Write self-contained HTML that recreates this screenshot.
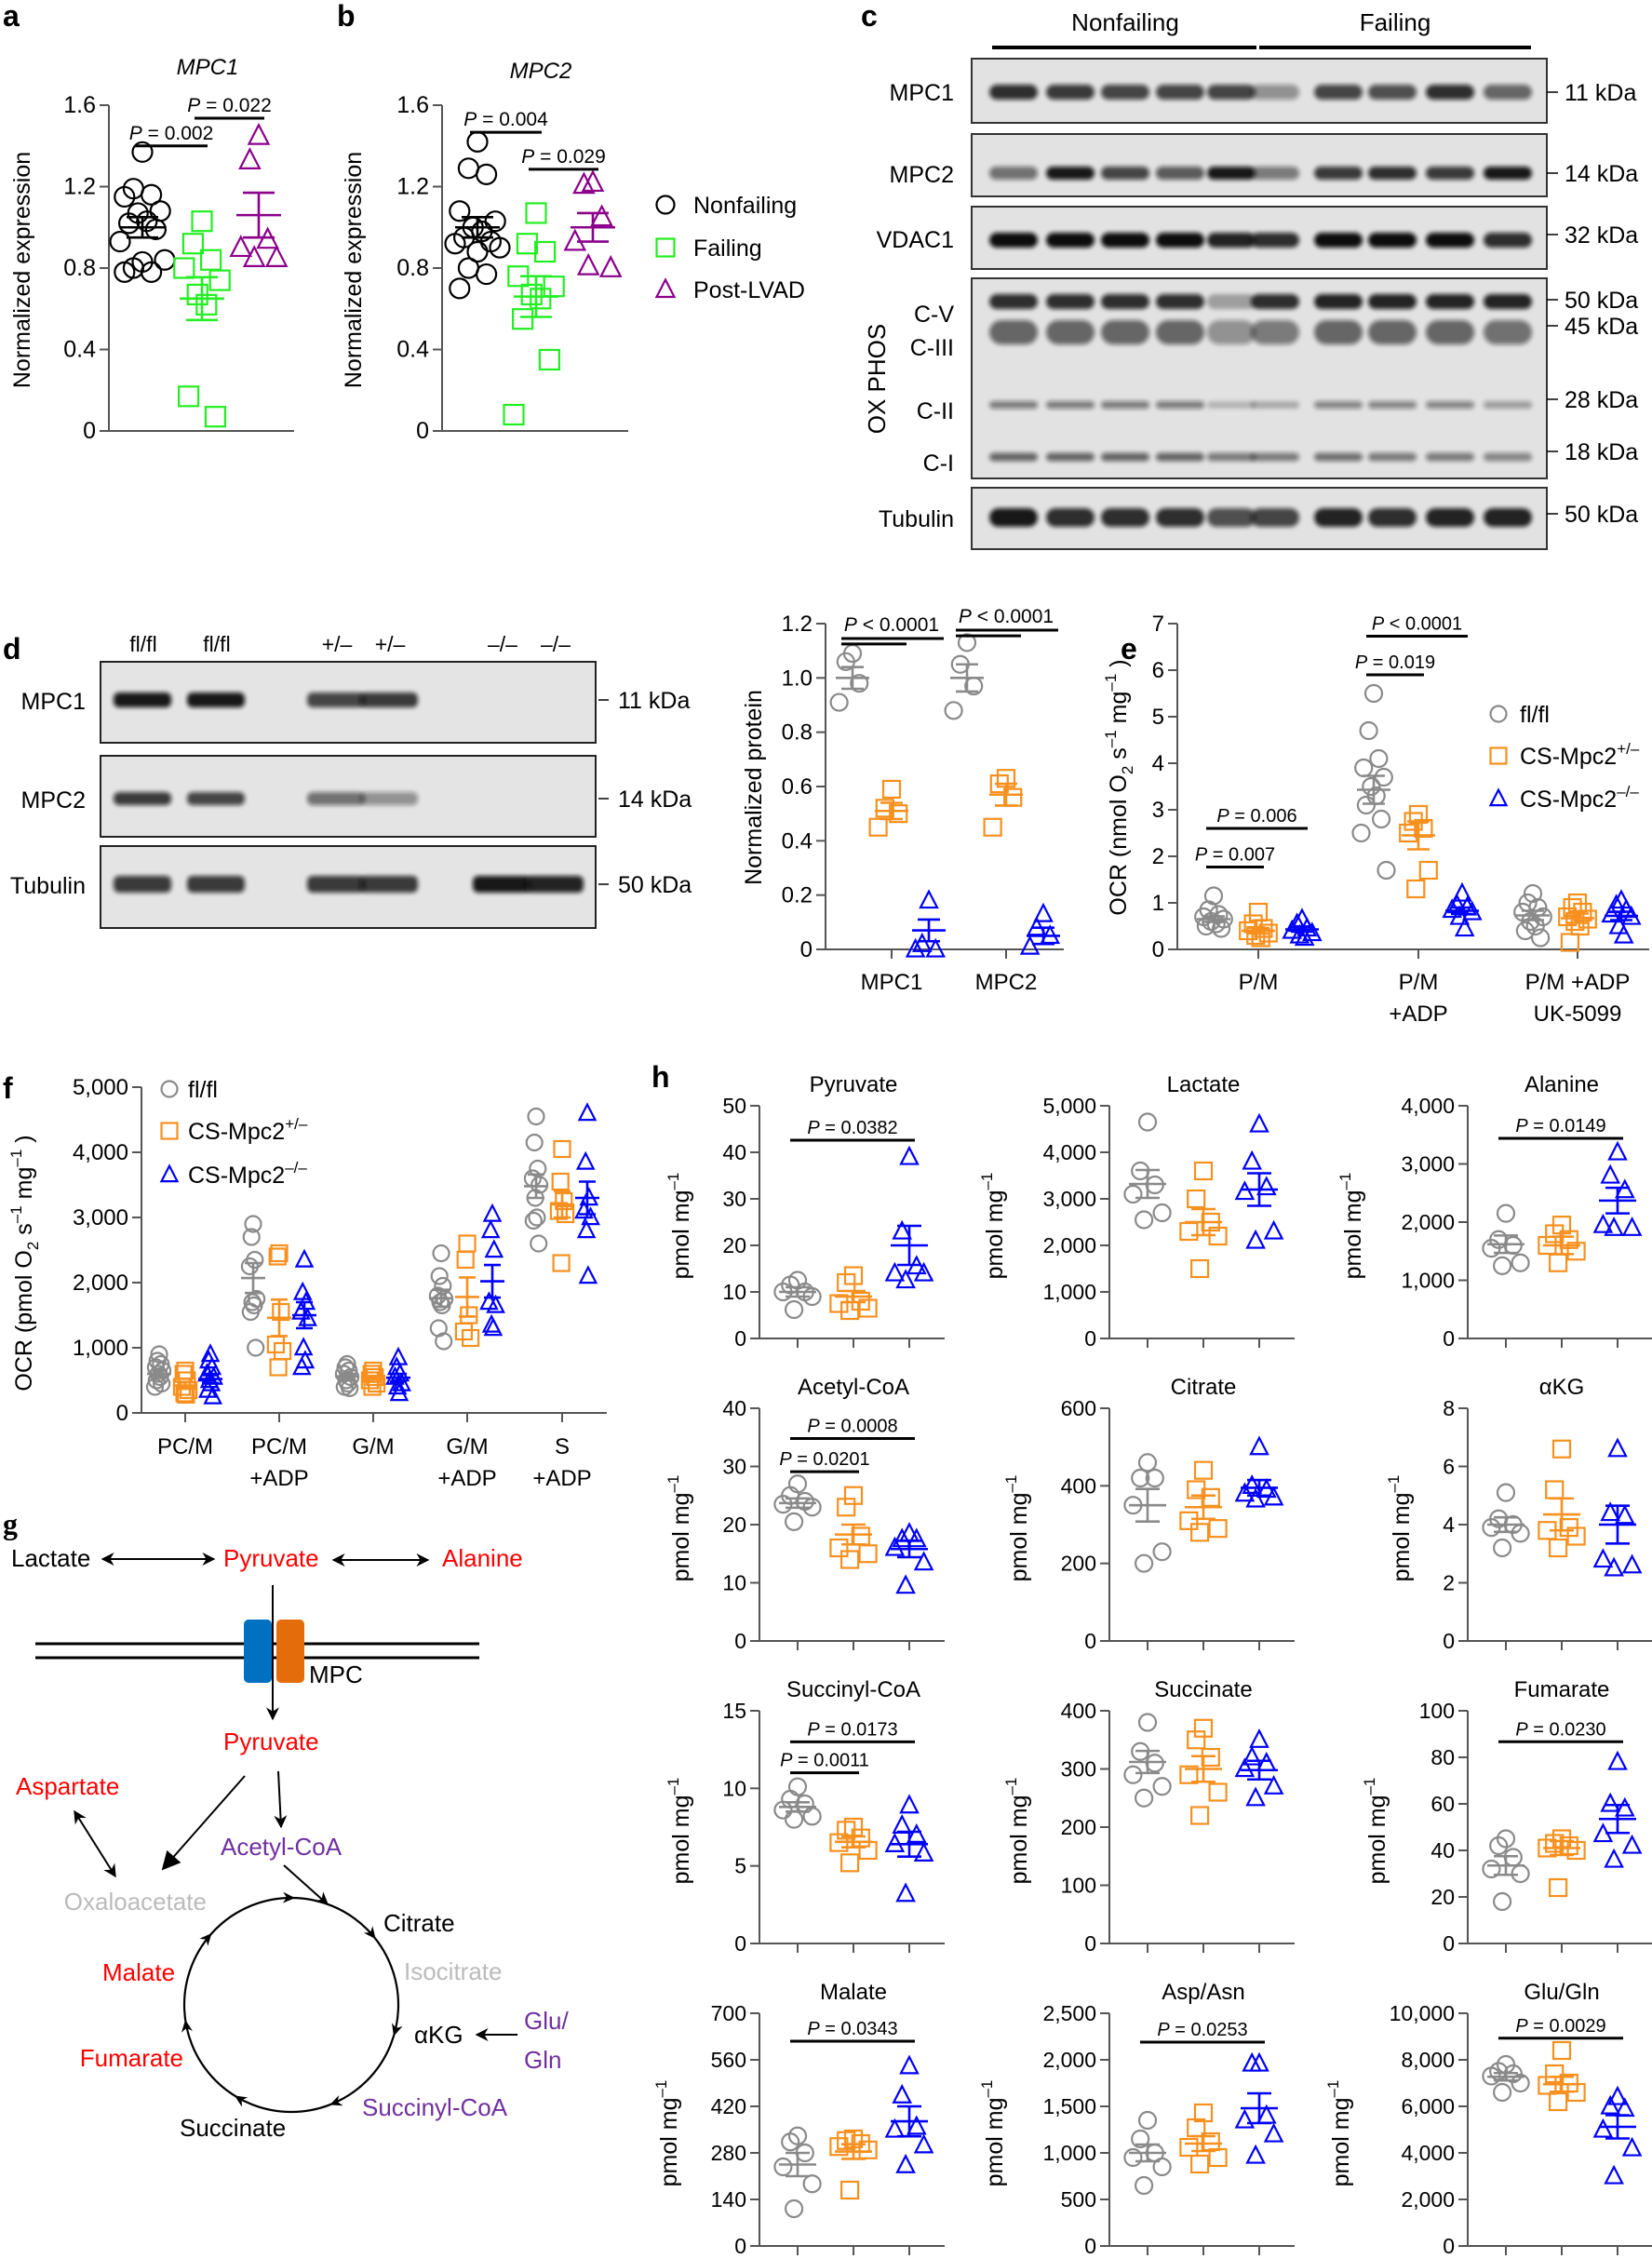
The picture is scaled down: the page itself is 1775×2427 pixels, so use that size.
<!DOCTYPE html>
<html><head><meta charset="utf-8">
<style>
html,body{margin:0;padding:0;background:#fff;}
svg{display:block;font-family:"Liberation Sans","DejaVu Sans",sans-serif;}
</style></head>
<body>
<svg id="fig" width="1775" height="2427" viewBox="0 0 1775 2427" xmlns="http://www.w3.org/2000/svg">
<defs><filter id="blur" x="-20%" y="-50%" width="140%" height="200%"><feGaussianBlur stdDeviation="2.5"/></filter></defs>
</svg>
<script>
// ---------------- DATA ----------------
// panel a (MPC1) / b (MPC2)
const abGroups=['Nonfailing','Failing','Post-LVAD'];
const abTicks=[0,0.4,0.8,1.2,1.6];
const aPts=[[1.37,1.19,1.16,1.15,1.08,1.07,1.03,1.02,0.99,0.93,0.84,0.83,0.80,0.78,0.78],[1.03,0.92,0.84,0.80,0.74,0.67,0.62,0.17,0.07],[1.45,1.33,0.94,0.90,0.85,0.85]];
const aMean=[1.00,0.65,1.06];
const aSem=[0.05,0.105,0.11];
const aP=[[0,1,1.40,'0.002'],[1,2,1.536,'0.022']];
const bPts=[[1.42,1.29,1.26,1.08,1.03,1.00,0.98,0.95,0.93,0.92,0.90,0.88,0.80,0.77,0.70],[1.07,0.92,0.88,0.76,0.71,0.67,0.65,0.55,0.35,0.08],[1.22,1.21,1.05,0.93,0.80,0.81]];
const bMean=[1.00,0.66,1.00];
const bSem=[0.05,0.10,0.07];
const bP=[[0,1,1.467,'0.004'],[1,2,1.285,'0.029']];
// panel d chart
const dCats=['MPC1','MPC2'];
const dTicks=[0,0.2,0.4,0.6,0.8,1.0,1.2];
const dFl=[[1.09,1.06,0.98,0.91],[1.13,1.05,0.97,0.88]];
const dHet=[[0.59,0.52,0.50,0.45],[0.63,0.61,0.56,0.45]];
const dKo=[[0.18,0.02,0.0,0.0],[0.13,0.08,0.05,0.01]];
const dMean=[[1.0,0.51,0.07],[1.0,0.57,0.05]];
const dSem=[[0.04,0.03,0.04],[0.05,0.04,0.03]];
// panel e chart
const eCats=[['P/M'],['P/M','+ADP'],['P/M +ADP','UK-5099']];
const eTicks=[0,1,2,3,4,5,6,7];
const eFl=[[1.15,0.85,0.75,0.7,0.65,0.6,0.55,0.5,0.45],[5.5,4.7,4.1,3.9,3.7,3.5,3.3,3.1,2.8,2.5,1.7],[1.2,1.0,0.9,0.8,0.7,0.6,0.5,0.4,0.25]];
const eHet=[[0.8,0.55,0.45,0.4,0.35,0.3,0.25],[2.9,2.75,2.6,2.5,1.7,1.3],[1.0,0.9,0.8,0.7,0.65,0.6,0.5,0.15]];
const eKo=[[0.65,0.55,0.45,0.4,0.35,0.3,0.25],[1.2,0.95,0.9,0.85,0.8,0.7,0.45],[1.05,0.95,0.85,0.75,0.7,0.5,0.3]];
const eMean=[[0.65,0.40,0.43],[3.43,2.45,0.83],[0.73,0.67,0.72]];
const eSem=[[0.06,0.06,0.05],[0.30,0.30,0.07],[0.10,0.10,0.09]];
// panel f chart
const fCats=[['PC/M'],['PC/M','+ADP'],['G/M'],['G/M','+ADP'],['S','+ADP']];
const fTicks=[0,1000,2000,3000,4000,5000];
const fFl=[[900,800,750,700,650,600,550,500,450,400],[2900,2700,2350,2250,1750,1700,1650,1550,1000],[750,700,650,600,550,500,450,400,380],[2450,2100,1950,1800,1750,1700,1650,1300,1100],[4550,4150,3750,3600,3500,3300,3000,2950,2600]];
const fHet=[[650,600,500,400,350,300,280],[2450,2400,1550,1050,950,700],[650,600,550,500,450,400],[2600,2350,1500,1250,1150],[4050,3550,3250,3100,3050,2300]];
const fKo=[[900,800,700,600,550,500,450,350,250],[2350,1850,1700,1550,1450,1000,800,700],[850,700,600,550,450,400,300],[3050,2800,2500,1700,1650,1350,1300],[4600,3850,3300,3100,3000,2800,2100]];
const fMean=[[600,420,520],[2070,1460,1500],[560,520,540],[1760,1780,2020],[3480,3200,3300]];
const fSem=[[50,50,60],[230,280,200],[40,40,60],[130,300,250],[180,200,250]];
// panel h charts
const hNames=['Pyruvate','Lactate','Alanine','Acetyl-CoA','Citrate','αKG','Succinyl-CoA','Succinate','Fumarate','Malate','Asp/Asn','Glu/Gln'];
const hTicks=[[0,10,20,30,40,50],[0,1000,2000,3000,4000,5000],[0,1000,2000,3000,4000],[0,10,20,30,40],[0,200,400,600],[0,2,4,6,8],[0,5,10,15],[0,100,200,300,400],[0,20,40,60,80,100],[0,140,280,420,560,700],[0,500,1000,1500,2000,2500],[0,2000,4000,6000,8000,10000]];
const hFl=[[12.5,11.5,10,10,9,6.2],[4650,3600,3300,3100,2700,2550],[2150,1700,1600,1550,1300,1250],[27,25,24,23.5,23,20.5],[460,420,420,350,230,200],[5.1,4.2,4.0,3.9,3.7,3.2],[10.1,9.3,9.0,8.6,8.2,8.0],[380,330,310,290,270,250],[45,42,37,32,30,18],[331,313,280,238,187,112],[1350,1150,1000,950,850,650],[7800,7500,7400,7300,7000,6600]];
const hHet=[[13.5,12,8,7.5,6.5,6.0],[3600,3000,2500,2300,2200,1500],[1950,1800,1700,1600,1500,1300],[25,23,18,16,15,14],[440,390,370,310,290,280],[6.6,5.2,3.9,3.8,3.6,3.2],[7.5,7.3,6.8,6.5,6.0,5.2],[370,350,320,290,260,220],[45,43,42,41,40,24],[322,317,308,299,289,168],[1430,1270,1120,1060,950,880],[8400,7400,7000,6900,6600,6200]];
const hKo=[[39,23,15.5,14,14,12.5],[4600,3800,3250,3150,2300,2100],[3200,2800,2550,1950,1900,1900],[18.5,17.5,17.5,16,13.5,9.5],[500,400,390,380,370,365],[6.6,4.4,4.3,2.8,2.6,2.5],[8.9,7.6,7.0,6.4,5.8,3.2],[350,320,310,300,270,250],[78,60,58,47,42,36],[541,453,359,350,303,243],[1960,1960,1400,1350,1200,970],[6400,6000,5900,5000,4200,3000]];
const hMean=[[10,9,20],[3320,2500,3200],[1620,1600,2370],[23.7,18.3,15.8],[350,345,395],[4.0,4.35,4.0],[8.8,6.55,6.4],[312,300,298],[33.5,41,53.5],[245,284,375],[1000,1100,1480],[7270,6950,5120]];
const hSem=[[1.0,1.2,4.2],[300,280,350],[150,150,220],[0.8,1.7,1.4],[42,30,20],[0.25,0.55,0.65],[0.3,0.35,0.8],[19,22,16],[4,3,6],[35,22,45],[90,80,160],[160,320,500]];
const hP=[[[0,2,42.6,'0.0382']],[],[[0,2,3440,'0.0149']],[[0,2,34.8,'0.0008'],[0,1,29.1,'0.0201']],[],[],[[0,2,13.0,'0.0173'],[0,1,11.0,'0.0011']],[],[[0,2,86.7,'0.0230']],[[0,2,616,'0.0343']],[[0,2,2190,'0.0253']],[[0,2,8930,'0.0029']]];

// ---------------- HELPERS ----------------
const NS='http://www.w3.org/2000/svg';
const S=document.getElementById('fig');
function mk(tag,attrs,parent){const e=document.createElementNS(NS,tag);for(const k in attrs)e.setAttribute(k,attrs[k]);(parent||S).appendChild(e);return e;}
function txt(parent,x,y,html,size,anchor,extra){const t=mk('text',Object.assign({x:x,y:y,'font-size':size||24,'text-anchor':anchor||'middle',fill:'#000'},extra||{}),parent);t.innerHTML=html;return t;}
const PAT=[0,-0.6,0.6,-1.2,1.2,-0.3,0.3,-0.9,0.9,-1.5,1.5,0,-0.6,0.6,-1.2,1.2];
const GREY='#8a8a8a',ORANGE='#f7901e',BLUE='#0000ff';
function marker(g,shape,x,y,s,color,sw){
  let e;
  if(shape==='c')e=mk('circle',{cx:x,cy:y,r:s/2,fill:'none',stroke:color,'stroke-width':sw},g);
  else if(shape==='s')e=mk('rect',{x:x-s/2,y:y-s/2,width:s,height:s,fill:'none',stroke:color,'stroke-width':sw},g);
  else e=mk('polygon',{points:`${x},${y-s*0.55} ${x-s/2},${y+s*0.42} ${x+s/2},${y+s*0.42}`,fill:'none',stroke:color,'stroke-width':sw,'stroke-linejoin':'miter'},g);
  
  
  return e;
}
function fmt(v){return v>=1000?v.toLocaleString('en-US'):String(v);}

function dotPlot(p){
  const g=mk('g',{});
  
  
  const max=p.ticks[p.ticks.length-1];
  const ys=v=>p.y0-v/max*p.h;
  const ya=mk('line',{x1:p.ax,y1:p.y0,x2:p.ax,y2:ys(max),stroke:'#555','stroke-width':2},g);
  
  
  const xa=mk('line',{x1:p.ax-(p.xStart||0),y1:p.y0,x2:p.xEnd,y2:p.y0,stroke:'#555','stroke-width':p.xw||2},g);
  
  
  p.ticks.forEach(t=>{
    const tl=mk('line',{x1:p.ax-10,y1:ys(t),x2:p.ax,y2:ys(t),stroke:'#555','stroke-width':2},g);
    
    
    const lb=txt(g,p.ax-14,ys(t)+8,p.fmt?p.fmt(t):fmt(t),p.tf||23,'end');
    
    
  });
  (p.xt||[]).forEach(x=>{
    const xt=mk('line',{x1:x,y1:p.y0,x2:x,y2:p.y0+10,stroke:'#555','stroke-width':2},g);
    
    
  });
  p.data.forEach((pts,gi)=>{
    const gx=p.gx[gi],col=p.colors[gi];
    pts.forEach((v,i)=>marker(g,p.shapes[gi],gx+PAT[i%PAT.length]*p.jit,ys(v),p.ms,col,p.sw||2.2));
    const m=p.means[gi],s=p.sems[gi];
    const ml=mk('line',{x1:gx-p.mw/2,x2:gx+p.mw/2,y1:ys(m),y2:ys(m),stroke:col,'stroke-width':2.6},g);
    
    
    const sl=mk('path',{d:`M${gx},${ys(m-s)}V${ys(m+s)}M${gx-p.cw/2},${ys(m-s)}H${gx+p.cw/2}M${gx-p.cw/2},${ys(m+s)}H${gx+p.cw/2}`,stroke:col,'stroke-width':2.6,fill:'none'},g);
    
    
  });
  (p.pv||[]).forEach(([a,b,v,lab])=>{
    const x1=p.gx[a]-8,x2=p.gx[b]+6,y=ys(v);
    const pl=mk('line',{x1:x1,x2:x2,y1:y,y2:y,stroke:'#000','stroke-width':3},g);
    
    
    const pt=txt(g,(x1+x2)/2,y-7,'<tspan font-style="italic">P</tspan>'+lab,p.pf||21);
    
    
  });
  if(p.title){const tt=txt(g,p.tx,p.ty,p.title,24,'middle',p.titleItalic?{'font-style':'italic'}:{});
    
    }
  if(p.ylab){const yl=txt(g,0,0,p.ylab,p.yf||25,'middle',{transform:`translate(${p.ylx},${p.yly}) rotate(-90)`});
    
    }
  return g;
}
function panelLabel(ch,x,y,serif){const t=txt(S,x,y,ch,32,'start',{'font-weight':'bold','font-family':serif?'"Liberation Serif",serif':'"Liberation Sans",sans-serif'});
  
  }
function legend(x,tx,ysArr,labels,shapes,colors,size,fs){
  const g=mk('g',{});
  
  
  labels.forEach((l,i)=>{marker(g,shapes[i],x,ysArr[i],size,colors[i],2.2);
    const t=txt(g,tx,ysArr[i]+9,l,fs||25,'start');
    
    });
}
const SUP=s=>`<tspan dy="-11" font-size="17">${s}</tspan><tspan dy="11"> </tspan>`;

// ---------------- PANELS a, b ----------------
panelLabel('a',3,28);
panelLabel('b',362,28);
const abPV=(p)=>p.map(x=>[x[0],x[1],x[2],' = '+x[3]]);
dotPlot({name:'panel-a-mpc1',ax:117,y0:463,h:350,ticks:abTicks,fmt:t=>t===0?'0':t.toFixed(1),xStart:10,xEnd:316,gx:[153,217,278],data:aPts,means:aMean,sems:aSem,colors:['#000','#22ee22','#8b008b'],shapes:['c','s','t'],ms:21,jit:16,mw:48,cw:34,pv:abPV(aP),title:'MPC1',titleItalic:true,tx:223,ty:80,ylab:'Normalized expression',ylx:32,yly:290,tf:25});
dotPlot({name:'panel-b-mpc2',ax:475,y0:463,h:350,ticks:abTicks,fmt:t=>t===0?'0':t.toFixed(1),xStart:10,xEnd:675,gx:[513,576,637],data:bPts,means:bMean,sems:bSem,colors:['#000','#22ee22','#8b008b'],shapes:['c','s','t'],ms:21,jit:16,mw:48,cw:34,pv:abPV(bP),title:'MPC2',titleItalic:true,tx:581,ty:84,ylab:'Normalized expression',ylx:388,yly:290,tf:25});
legend(715,745,[220,266,311],abGroups,['c','s','t'],['#000','#22ee22','#8b008b'],19,25);

// ---------------- PANEL c (blot) ----------------
panelLabel('c',925,28);
const cLanes=[1089,1150,1209,1268,1323,1370,1438,1496,1558,1620];
const cRows=[
 {n:'MPC1',y1:63,y2:132,bands:[[99,16,[0.85,0.8,0.75,0.75,0.75,0.4,0.75,0.7,0.85,0.6]]],kda:[['11 kDa',99]]},
 {n:'MPC2',y1:144,y2:211,bands:[[186,14,[0.55,0.95,0.75,0.65,0.95,0.5,0.8,0.85,0.8,0.95]]],kda:[['14 kDa',186]]},
 {n:'VDAC1',y1:222,y2:289,bands:[[258,16,[1,1,1,1,0.9,0.85,1,1,1,0.85]]],kda:[['32 kDa',252]]},
 {n:'OX PHOS',y1:299,y2:514,bands:[[324,16,[0.85,0.85,0.85,0.85,0.3,0.85,0.9,0.9,0.9,0.9]],[357,26,[0.6,0.6,0.6,0.6,0.4,0.5,0.6,0.6,0.6,0.55]],[435,8,[0.5,0.5,0.5,0.5,0.2,0.25,0.45,0.45,0.45,0.35]],[491,9,[0.6,0.6,0.6,0.6,0.5,0.5,0.55,0.5,0.5,0.45]]],kda:[['50 kDa',322],['45 kDa',350],['28 kDa',429],['18 kDa',485]]},
 {n:'Tubulin',y1:524,y2:590,bands:[[556,20,[0.95,0.85,0.85,0.85,0.7,0.75,0.9,0.85,0.9,0.9]]],kda:[['50 kDa',552]]}
];
cRows.forEach(r=>{
  const g=mk('g',{});
  
  
  mk('rect',{x:1044,y:r.y1,width:618,height:r.y2-r.y1,fill:'#e2e2e2',stroke:'#333','stroke-width':2},g);
  r.bands.forEach(([y,th,ints])=>ints.forEach((a,i)=>{
    const b=mk('rect',{x:cLanes[i]-26,y:y-th/2,width:52,height:th,rx:th/2,fill:'#111','fill-opacity':a,filter:'url(#blur)'},g);
    
    
  }));
  r.kda.forEach(([l,y])=>{mk('line',{x1:1662,x2:1674,y1:y,y2:y,stroke:'#000','stroke-width':1.5},g);
    const t=txt(g,1681,y+9,l,25,'start');
    
    });
});
[['MPC1',108],['MPC2',196],['VDAC1',266],['C-V',346],['C-III',382],['C-II',450],['C-I',506],['Tubulin',566]].forEach(([l,y])=>{
  const t=txt(S,1025,y,l,25,'end');
  
  });
{const t=txt(S,0,0,'OX PHOS',26,'middle',{transform:'translate(951,407) rotate(-90)'});
 
 }
{const t1=txt(S,1209,33,'Nonfailing',26);
 
 
 const t2=txt(S,1499,33,'Failing',26);
 
 
 const l1=mk('line',{x1:1066,x2:1350,y1:51,y2:51,stroke:'#000','stroke-width':4});
 
 
 const l2=mk('line',{x1:1353,x2:1645,y1:51,y2:51,stroke:'#000','stroke-width':4});
 
 }

// ---------------- PANEL d (blot + chart) ----------------
panelLabel('d',3,708);
const dLanes=[154,233,362,419,540,597];
const dRows=[['MPC1',711,798,752,16,[0.95,0.95,0.75,0.8,0,0],'11 kDa'],['MPC2',812,899,858,14,[0.8,0.75,0.55,0.4,0,0],'14 kDa'],['Tubulin',909,997,950,18,[0.8,0.8,0.8,0.8,0.95,0.9],'50 kDa']];
dRows.forEach(([n,y1,y2,by,th,ints,k])=>{
  const g=mk('g',{});
  
  
  mk('rect',{x:108,y:y1,width:532,height:y2-y1,fill:'#e4e4e4',stroke:'#222','stroke-width':2},g);
  ints.forEach((a,i)=>{const b=mk('rect',{x:dLanes[i]-32,y:by-th/2,width:62,height:th,rx:6,fill:'#111','fill-opacity':a,filter:'url(#blur)'},g);
    
    });
  mk('line',{x1:643,x2:654,y1:by,y2:by,stroke:'#000','stroke-width':1.5},g);
  const kt=txt(g,664,by+9,k,25,'start');
  
  
  const rl=txt(g,92,by+10,n,25,'end');
  
  
});
['fl/fl','fl/fl','+/–','+/–','–/–','–/–'].forEach((l,i)=>{const t=txt(S,dLanes[i],700,l,23);
  
  });
const dX=[958,1081];
const dGx=[],dData=[],dM=[],dS=[];
dCats.forEach((c,ci)=>{[dFl,dHet,dKo].forEach((arr,k)=>{dGx.push(dX[ci]+[-42,0,40][k]);dData.push(arr[ci]);dM.push(dMean[ci][k]);dS.push(dSem[ci][k]);});});
dotPlot({name:'panel-d-protein-chart',ax:887,y0:1020,h:350,ticks:dTicks,fmt:t=>t===0?'0':t.toFixed(1),xStart:0,xEnd:1143,xt:dX,gx:dGx,data:dData,means:dM,sems:dS,colors:[GREY,ORANGE,BLUE,GREY,ORANGE,BLUE],shapes:['c','s','t','c','s','t'],ms:18,jit:12,mw:36,cw:24,ylab:'Normalized protein',ylx:818,yly:846,tf:24});
{const ys=v=>1020-v/1.2*350;
 [[[0,2,1.145],[0,1,1.125]],[[3,5,1.176],[3,4,1.155]]].forEach((pair,ci)=>{
  pair.forEach(([a,b,v])=>{const l=mk('line',{x1:dGx[a]-12,x2:dGx[b]+16,y1:ys(v),y2:ys(v),stroke:'#000','stroke-width':3});
    
    });
  const t=txt(S,dX[ci],ys(pair[0][2])-8,'<tspan font-style="italic">P</tspan> &lt; 0.0001',21);
  
  
 });}
dCats.forEach((c,i)=>{const t=txt(S,dX[i],1063,c,24);
  
  });

// ---------------- PANEL e ----------------
panelLabel('e',1204,708);
const eX=[1352,1524,1695];
const eGx=[],eData=[],eM=[],eS=[];
eCats.forEach((c,ci)=>{[eFl,eHet,eKo].forEach((arr,k)=>{eGx.push(eX[ci]+[-48,0,47][k]);eData.push(arr[ci]);eM.push(eMean[ci][k]);eS.push(eSem[ci][k]);});});
dotPlot({name:'panel-e-ocr-chart',ax:1265,y0:1020,h:350,ticks:eTicks,xEnd:1772,xt:eX,gx:eGx,data:eData,means:eM,sems:eS,colors:[GREY,ORANGE,BLUE,GREY,ORANGE,BLUE,GREY,ORANGE,BLUE],shapes:['c','s','t','c','s','t','c','s','t'],ms:18,jit:9,mw:36,cw:24,pv:[[0,1,1.77,' = 0.007'],[0,2,2.6,' = 0.006'],[3,4,5.9,' = 0.019'],[3,5,6.73,' &lt; 0.0001']],pf:20,
  ylab:'OCR (nmol O<tspan dy="7" font-size="17">2</tspan><tspan dy="-7"> s</tspan>'+SUP('–1')+'mg'+SUP('–1')+')',ylx:1210,yly:846,tf:24,yf:25});
eCats.forEach((c,i)=>c.forEach((l,j)=>{const t=txt(S,eX[i],1063+j*34,l,24);
  
  }));
legend(1610,1633,[767,812,858],['fl/fl','CS-Mpc2'+SUP('+/–'),'CS-Mpc2'+SUP('–/–')],['c','s','t'],[GREY,ORANGE,BLUE],17,25);

// ---------------- PANEL f ----------------
panelLabel('f',3,1180);
const fX=[199,300,401,502,604];
const fGx=[],fData=[],fM=[],fS=[],fCol=[],fSh=[];
fCats.forEach((c,ci)=>{[fFl,fHet,fKo].forEach((arr,k)=>{fGx.push(fX[ci]+[-28,0,27][k]);fData.push(arr[ci]);fM.push(fMean[ci][k]);fS.push(fSem[ci][k]);fCol.push([GREY,ORANGE,BLUE][k]);fSh.push(['c','s','t'][k]);});});
dotPlot({name:'panel-f-ocr-chart',ax:152,y0:1518,h:350,ticks:fTicks,xStart:10,xEnd:652,xt:fX,gx:fGx,data:fData,means:fM,sems:fS,colors:fCol,shapes:fSh,ms:17,jit:3,mw:26,cw:18,
  ylab:'OCR (pmol O<tspan dy="7" font-size="17">2</tspan><tspan dy="-7"> s</tspan>'+SUP('–1')+'mg'+SUP('–1')+')',ylx:34,yly:1357,tf:24,yf:25});
fCats.forEach((c,i)=>c.forEach((l,j)=>{const t=txt(S,fX[i],1562+j*34,l,24);
  
  }));
legend(182,202,[1170,1215,1262],['fl/fl','CS-Mpc2'+SUP('+/–'),'CS-Mpc2'+SUP('–/–')],['c','s','t'],[GREY,ORANGE,BLUE],17,25);

// ---------------- PANEL h ----------------
panelLabel('h',700,1168);
const hAx=[816,1192,1577], hY0=[1438,1763,2088,2413];
hNames.forEach((n,i)=>{
  const col=i%3,row=Math.floor(i/3),ax=hAx[col],y0=hY0[row];
  const gx=[ax+41,ax+101,ax+161];
  const maxLab=fmt(hTicks[i][hTicks[i].length-1]).length;
  dotPlot({name:'panel-h-'+n.toLowerCase().replace('/','-'),ax:ax,y0:y0,h:250,ticks:hTicks[i],xStart:10,xEnd:ax+199,xt:gx,gx:gx,
    data:[hFl[i],hHet[i],hKo[i]],means:hMean[i],sems:hSem[i],colors:[GREY,ORANGE,BLUE],shapes:['c','s','t'],ms:18,jit:13,mw:40,cw:26,
    pv:hP[i].map(x=>[x[0],x[1],x[2],' = '+x[3]]),pf:20,title:n,tx:ax+101,ty:y0-265,
    ylab:'pmol mg'+SUP('–1'),ylx:ax-(50+13*maxLab),yly:y0-121,tf:23,yf:25});
});

// ---------------- PANEL g (diagram) ----------------
panelLabel('g',3,1648,true);
{
const g=mk('g',{});


const mA=mk('marker',{id:'ah',viewBox:'0 0 10 10',refX:9,refY:5,markerWidth:7,markerHeight:7,orient:'auto-start-reverse'},S.querySelector('defs'));
mk('path',{d:'M0,0 L10,5 L0,10 L3,5 Z',fill:'#000'},mA);
const mB=mk('marker',{id:'ahb',viewBox:'0 0 10 10',refX:9,refY:5,markerWidth:10,markerHeight:10,orient:'auto'},S.querySelector('defs'));
mk('path',{d:'M0,0 L10,5 L0,10 Z',fill:'#000'},mB);
const labels=[['Lactate',12,1683,'#000','start'],['Pyruvate',240,1683,'red','start'],['Alanine',475,1683,'red','start'],['MPC',332,1808,'#000','start'],['Pyruvate',240,1880,'red','start'],['Aspartate',17,1928,'red','start'],['Acetyl-CoA',237,1993,'#7030a0','start'],['Oxaloacetate',222,2052,'#bbbbbb','end'],['Citrate',412,2075,'#000','start'],['Isocitrate',434,2127,'#bbbbbb','start'],['Malate',110,2128,'red','start'],['αKG',445,2195,'#000','start'],['Glu/',563,2180,'#7030a0','start'],['Gln',563,2222,'#7030a0','start'],['Fumarate',197,2220,'red','end'],['Succinyl-CoA',389,2273,'#7030a0','start'],['Succinate',193,2295,'#000','start']];
labels.forEach(([l,x,y,c,a])=>{const t=txt(g,x,y,l,26,a,{fill:c});
  
  });
const arr=(d,m,w)=>{const p=mk('path',{d:d,stroke:'#000','stroke-width':w||2,fill:'none'},g);
  if(m==='both'){p.setAttribute('marker-start','url(#ah)');p.setAttribute('marker-end','url(#ah)');}
  else if(m==='big')p.setAttribute('marker-end','url(#ahb)');
  else if(m)p.setAttribute('marker-end','url(#ah)');
  
  };
arr('M110,1675 H230','both');
arr('M358,1676 H460','both');
const m1=mk('line',{x1:38,x2:515,y1:1766,y2:1766,stroke:'#000','stroke-width':3},g);


const m2=mk('line',{x1:38,x2:515,y1:1781,y2:1781,stroke:'#000','stroke-width':3},g);


const r1=mk('rect',{x:262,y:1740,width:30,height:68,rx:5,fill:'#0070c0'},g);


const r2=mk('rect',{x:297,y:1740,width:30,height:68,rx:5,fill:'#e46c0a'},g);


arr('M293,1703 V1847',true);
arr('M263,1908 L175,2008','big');
arr('M299,1903 L302,1963',true);
arr('M80,1946 L124,2016','both');
arr('M305,2004 L352,2046',true);
arr('M556,2186 H512',true);
const cx=313,cy=2154,r=115;
const circ=mk('circle',{cx:cx,cy:cy,r:r,fill:'none',stroke:'#000','stroke-width':2.2},g);


[-88,-38,17,69,122,172,222].forEach(a=>{
  const t=a*Math.PI/180,x=cx+r*Math.cos(t),y=cy+r*Math.sin(t);
  const d=a+90;
  const h=mk('path',{d:'M0,0 L-13,-6 L-9,0 L-13,6 Z',fill:'#000',transform:`translate(${x},${y}) rotate(${d})`},g);
  
  
});
}
</script>
</body></html>
